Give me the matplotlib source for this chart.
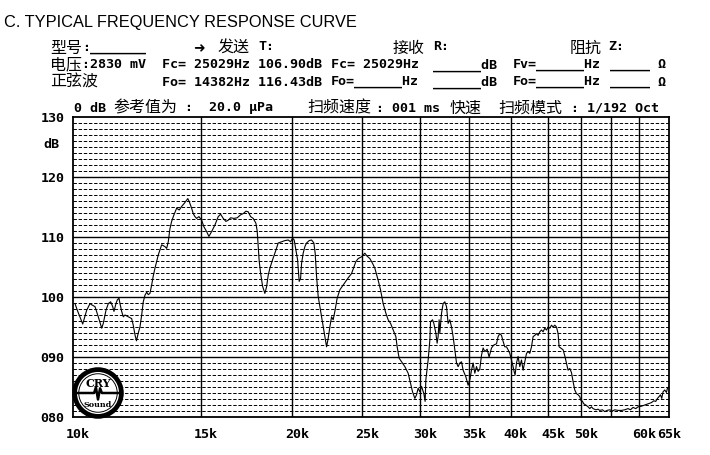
import matplotlib
matplotlib.use('Agg')
import matplotlib.pyplot as plt
from matplotlib.patches import Circle
from matplotlib.transforms import ScaledTranslation

# ---------------- data ----------------
freq_hz = [
    10063, 10137, 10312, 10443, 10553, 10610, 10721, 10834, 10951, 11006,
    11101, 11182, 11267, 11339, 11385, 11458, 11505, 11567, 11604, 11666,
    11726, 11789, 11912, 12041, 12102, 12168, 12226, 12295, 12362, 12429,
    12492, 12559, 12627, 12691, 12759, 12828, 12893, 12963, 13099, 13241,
    13380, 13452, 13520, 13593, 13666, 13766, 13884, 13999, 14106, 14222,
    14382, 14449, 14559, 14633, 14712, 14791, 14899, 15027, 15137, 15267,
    15378, 15510, 15673, 15838, 15958, 16090, 16228, 16347, 16471, 16644,
    16819, 17001, 17141, 17288, 17414, 17547, 17692, 17844, 17917, 17974,
    18031, 18111, 18226, 18359, 18458, 18552, 18652, 18812, 19010, 19149,
    19356, 19559, 19765, 19915, 20042, 20144, 20253, 20362, 20465, 20556,
    20621, 20726, 20838, 20950, 21123, 21284, 21440, 21528, 21624, 21734,
    21851, 21969, 22080, 22199, 22319, 22432, 22553, 22675, 22790, 22913,
    23080, 23278, 23522, 23777, 23973, 24156, 24333, 24487, 24666, 24933,
    25195, 25379, 25597, 25817, 26005, 26195, 26278, 26478, 26699, 26928,
    27125, 27332, 27557, 27794, 27908, 28085, 28299, 28596, 28896, 29117,
    29302, 29516, 29675, 29826, 29987, 30149, 30369, 30494, 30562, 30785,
    30951, 31020, 31217, 31345, 31544, 31674, 31774, 31875, 31946, 32118,
    32281, 32455, 32630, 32796, 32973, 33151, 33319, 33499, 33680, 33851,
    34034, 34217, 34391, 34686, 34939, 35128, 35317, 35496, 35688, 35880,
    36063, 36257, 36453, 36638, 36836, 37105, 37340, 37625, 37900, 38225,
    38419, 38626, 38835, 39032, 39243, 39454, 39655, 39869, 40084, 40287,
    40415, 40543, 40723, 40930, 41151, 41373, 41583, 41807, 42033, 42247,
    42475, 42704, 42921, 43152, 43385, 43605, 43840, 44077, 44301, 44540,
    44780, 45008, 45250, 45494, 45725, 45972, 46220, 46455, 46602, 46957,
    47196, 47450, 47706, 47948, 48207, 48467, 48713, 48976, 49240, 49490,
    49757, 49915, 50184, 50391, 50711, 51082, 51357, 51634, 51896, 52342,
    52724, 53008, 53463, 53854, 54247, 54713, 55182, 55585, 56169, 56776,
    57372, 57975, 58417, 58900, 59405, 59839, 60487, 61122, 61764, 62432,
    62888, 63287, 63629, 63952, 64236, 64501, 64767, 65116, 65468, 65675,
    65883,
]
level_db = [
    98.9, 97.8, 95.5, 97.8, 98.9, 98.7, 98.4, 96.7, 94.8, 95.6,
    97.8, 98.9, 99.2, 98.4, 97.6, 98.9, 99.5, 99.8, 98.9, 97.6,
    96.7, 97.0, 96.7, 96.4, 95.3, 93.7, 92.7, 94.0, 95.0, 97.0,
    99.2, 100.3, 100.8, 100.4, 100.6, 102.0, 103.5, 104.8, 107.0, 108.7,
    108.4, 108.1, 109.2, 111.4, 112.6, 113.7, 114.8, 114.5, 115.1, 115.6,
    116.4, 115.9, 114.8, 113.9, 113.4, 113.1, 113.4, 112.8, 111.7, 110.9,
    110.1, 110.9, 112.0, 113.4, 113.8, 113.1, 112.6, 112.8, 113.2, 113.1,
    113.2, 113.7, 113.9, 114.3, 114.2, 113.4, 113.1, 112.3, 111.0, 108.5,
    106.0, 104.0, 101.8, 100.6, 101.7, 103.6, 104.8, 106.2, 107.8, 109.0,
    109.2, 109.4, 109.5, 109.2, 109.8, 109.5, 107.8, 106.2, 102.6, 103.1,
    105.6, 107.3, 108.4, 109.0, 109.4, 109.5, 109.0, 107.3, 103.4, 100.1,
    98.4, 96.7, 95.0, 93.4, 91.7, 93.1, 95.0, 96.7, 96.2, 97.6,
    99.8, 101.2, 102.0, 102.8, 103.4, 103.9, 105.0, 105.9, 106.4, 106.7,
    107.3, 106.8, 106.4, 105.6, 104.8, 103.4, 102.8, 101.2, 98.9, 97.3,
    96.2, 95.6, 94.5, 93.4, 91.7, 89.8, 89.2, 88.4, 87.3, 85.6,
    84.2, 83.1, 83.7, 84.8, 84.2, 85.1, 83.9, 82.6, 86.2, 89.5,
    92.8, 95.9, 96.2, 95.6, 94.0, 92.3, 93.4, 96.2, 94.0, 97.3,
    98.9, 99.2, 98.4, 95.6, 96.2, 95.0, 93.4, 91.2, 89.0, 88.4,
    89.0, 89.2, 87.8, 86.7, 85.3, 86.2, 87.8, 89.0, 87.3, 88.4,
    87.6, 88.0, 90.3, 91.5, 90.9, 91.3, 90.0, 91.5, 92.0, 92.2,
    93.4, 93.9, 93.6, 92.6, 91.7, 91.7, 91.2, 90.6, 89.5, 88.4,
    87.6, 87.0, 89.0, 90.1, 88.4, 89.5, 87.8, 89.2, 90.6, 90.9,
    90.6, 91.7, 93.4, 93.6, 93.9, 93.6, 94.2, 94.5, 94.2, 94.8,
    94.5, 95.0, 94.8, 95.3, 95.0, 95.3, 95.0, 93.9, 91.7, 91.4,
    91.2, 90.2, 89.0, 87.8, 88.1, 87.4, 85.9, 84.5, 83.9, 83.7,
    83.4, 82.8, 82.6, 82.2, 82.0, 81.7, 81.4, 81.7, 81.4, 81.2,
    81.3, 81.1, 81.2, 80.9, 81.1, 81.2, 81.0, 81.2, 81.1, 81.1,
    81.2, 81.4, 81.2, 81.6, 81.4, 81.7, 81.8, 82.0, 82.2, 82.4,
    82.7, 82.6, 83.1, 83.4, 83.7, 83.1, 84.2, 84.5, 84.1, 84.8,
    85.0,
]
assert len(freq_hz) == len(level_db), (len(freq_hz), len(level_db))

x_ticks = [10000, 15000, 20000, 25000, 30000, 35000, 40000, 45000, 50000, 60000, 65000]
x_tick_labels = ['10k', '15k', '20k', '25k', '30k', '35k', '40k', '45k', '50k', '60k', '65k']
x_grid = [15000, 20000, 25000, 30000, 35000, 40000, 45000, 50000, 55000, 60000]
y_ticks = [80, 90, 100, 110, 120, 130]
y_tick_labels = ['080', '090', '100', '110', '120', '130']
y_minor = [v for v in range(81, 130) if v % 10 != 0]
x_range = (10000, 66000)
y_range = (80, 130)

title = 'C. TYPICAL FREQUENCY RESPONSE CURVE'

# ---------------- figure ----------------
W, H = 710, 455
fig = plt.figure(figsize=(W / 100, H / 100), dpi=100)
fig.patch.set_facecolor('white')

MONO = ['DejaVu Sans Mono']
CJK = ['Noto Sans CJK SC', 'DejaVu Sans Mono']
MS = 9.6
CS = 11.5


def put(x, y, s, fam=MONO, size=MS, weight='bold', **kw):
    fig.text(x / W, 1 - y / H, s, family=fam, fontsize=size, weight=weight,
             ha='left', va='center', color='black', **kw)


ax = fig.add_axes([73 / W, 1 - 417 / H, (669 - 73) / W, (417 - 117) / H])
ax.set_xscale('log')
ax.set_xlim(*x_range)
ax.set_ylim(*y_range)

for v in y_minor:
    ax.axhline(v, color='black', lw=0.7, ls=(0, (3.5, 1.8)), zorder=1)
for v in y_ticks[1:-1]:
    ax.axhline(v, color='black', lw=1.0, zorder=2)
for v in x_grid:
    ax.axvline(v, color='black', lw=1.0, zorder=2)

ax.plot(freq_hz, level_db, color='black', lw=0.8, zorder=3)

ax.set_xticks(x_ticks)
ax.set_xticklabels(x_tick_labels)
ax.minorticks_off()
ax.set_yticks(y_ticks)
ax.set_yticklabels(y_tick_labels)
ax.tick_params(length=0, labelsize=MS)
ax.tick_params(axis='x', pad=8)
ax.tick_params(axis='y', pad=6)
for lab in ax.get_xticklabels() + ax.get_yticklabels():
    lab.set_family(MONO)
    lab.set_weight('bold')
off = ScaledTranslation(5 / 100, 0, fig.dpi_scale_trans)
for lab in ax.get_xticklabels():
    lab.set_transform(lab.get_transform() + off)
for s in ax.spines.values():
    s.set_linewidth(1.3)
    s.set_color('black')

put(43, 145, 'dB')

# ---------------- header ----------------
fig.text(4 / W, 1 - 23 / H, title, family='Liberation Sans', fontsize=11.8,
         ha='left', va='center')

# line 1
put(50, 48, '型号', CJK, CS, 'normal')
put(82, 48, ':_______')
put(193, 48, '➜', ['DejaVu Sans'], 10)
put(218, 48, '发送', CJK, CS, 'normal')
put(258, 47, 'T:')
put(393, 48, '接收', CJK, CS, 'normal')
put(433, 47, 'R:')
put(570, 48, '阻抗', CJK, CS, 'normal')
put(608, 47, 'Z:')

# line 2
put(50, 65, '电压', CJK, CS, 'normal')
put(82, 65, ':2830 mV')
put(162, 65, 'Fc= 25029Hz 106.90dB')
put(331, 65, 'Fc= 25029Hz')
put(433, 65, '______dB')
put(513, 65, 'Fv=______Hz')
put(610, 65, '_____')
put(657, 65, 'Ω')

# line 3
put(50, 82, '正弦波', CJK, CS, 'normal')
put(162, 82, 'Fo= 14382Hz 116.43dB')
put(331, 82, 'Fo=______Hz')
put(433, 82, '______dB')
put(513, 82, 'Fo=______Hz')
put(610, 82, '_____')
put(657, 82, 'Ω')

# line 4
put(74, 108, '0 dB')
put(113, 108, '参考值为', CJK, CS, 'normal')
put(185, 108, ':  20.0 μPa')
put(307, 108, '扫频速度', CJK, CS, 'normal')
put(376, 108, ': 001 ms')
put(450, 108, '快速', CJK, CS, 'normal')
put(498, 108, '扫频模式', CJK, CS, 'normal')
put(571, 108, ': 1/192 Oct')

# ---------------- logo ----------------
lax = fig.add_axes([72 / W, 1 - 419 / H, 52 / W, 52 / H])
lax.set_xlim(-1, 1)
lax.set_ylim(-1, 1)
lax.set_aspect('equal')
lax.axis('off')
lax.add_patch(Circle((0, 0), 0.9, facecolor='white', edgecolor='black', lw=3.4, zorder=1))
lax.add_patch(Circle((0, 0), 0.74, facecolor='none', edgecolor='black', lw=0.7, zorder=2))
lax.text(0, 0.36, 'CRY', ha='center', va='center', family='DejaVu Serif',
         weight='bold', fontsize=8, zorder=3)
lax.text(0, -0.45, 'Sound', ha='center', va='center', family='DejaVu Serif',
         weight='bold', fontsize=5.8, zorder=3)
lax.plot([-0.8, -0.15, -0.08, 0.0, 0.08, 0.15, 0.8],
         [0.0, 0.0, 0.22, -0.25, 0.18, 0.0, 0.0], color='black', lw=1.8, zorder=3)

fig.savefig('out.png', dpi=100, facecolor='white')
